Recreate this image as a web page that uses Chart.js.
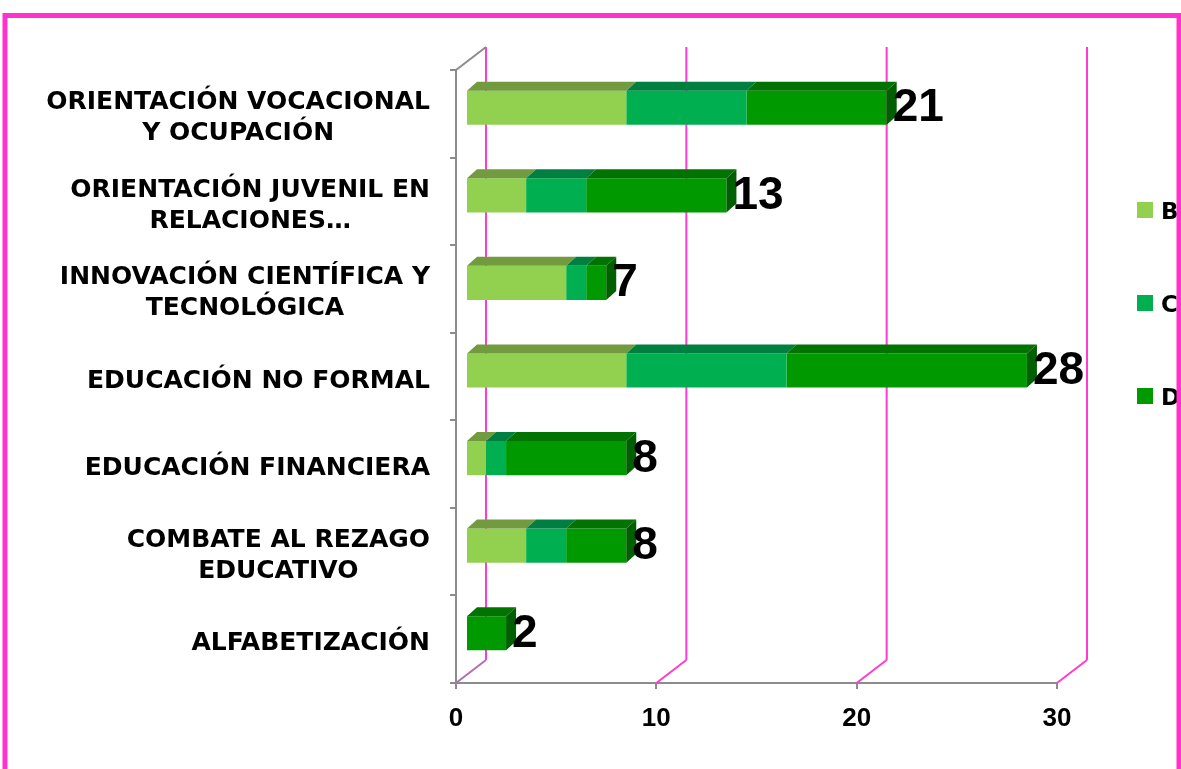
<!DOCTYPE html>
<html>
<head>
<meta charset="utf-8">
<script src="https://cdn.jsdelivr.net/npm/chart.js@4"></script>
<style>
  html, body { margin: 0; padding: 0; background: #ffffff; }
  canvas { display: block; }
</style>
</head>
<body>
<canvas id="c" width="1181" height="769"></canvas>
<script>
// ---- data ----
const categories = [
  ["ORIENTACIÓN VOCACIONAL", "Y OCUPACIÓN"],
  ["ORIENTACIÓN JUVENIL EN", "RELACIONES…"],
  ["INNOVACIÓN CIENTÍFICA Y", "TECNOLÓGICA"],
  ["EDUCACIÓN NO FORMAL"],
  ["EDUCACIÓN FINANCIERA"],
  ["COMBATE AL REZAGO", "EDUCATIVO"],
  ["ALFABETIZACIÓN"]
];
const seriesNames = ["B", "C", "D"];
const seriesB = [8, 3, 5, 8, 1, 3, 0];
const seriesC = [6, 3, 1, 8, 1, 2, 0];
const seriesD = [7, 7, 1, 12, 6, 3, 2];
const totalLabels = [21, 13, 7, 28, 8, 8, 2];
const xTicks = [0, 10, 20, 30];

// ---- style ----
const frontColors = ["#92D050", "#00B050", "#009900"];
const topColors   = ["#719B3E", "#008040", "#007300"];
const sideColors  = ["#5E8234", "#006633", "#005F00"];
const PINK = "#FF3CCF";
const GREY = "#8C8C8C";
const FRONT_SHIFT = { dx: 10, dy: -6 };
const BAR_DEPTH = { dx: 10, dy: 9 };
const WALL = { dx: 30, dy: 23 };

const labelsFlat = categories.map(c => c.join(" "));

const threeD = {
  id: "threeD",
  beforeDatasetsDraw(chart) {
    const ctx = chart.ctx;
    const xs = chart.scales.x, ca = chart.chartArea;
    ctx.save();
    ctx.lineWidth = 2;
    // back-wall grid lines + floor diagonals
    xTicks.forEach((v, i) => {
      const px = xs.getPixelForValue(v);
      ctx.strokeStyle = i === 0 ? "#B070B0" : PINK;
      ctx.beginPath();
      ctx.moveTo(px, ca.bottom);
      ctx.lineTo(px + WALL.dx, ca.bottom - WALL.dy);
      ctx.stroke();
      ctx.strokeStyle = PINK;
      ctx.beginPath();
      ctx.moveTo(px + WALL.dx, ca.bottom - WALL.dy);
      ctx.lineTo(px + WALL.dx, ca.top - WALL.dy);
      ctx.stroke();
    });
    // left wall top edge
    ctx.strokeStyle = GREY;
    ctx.beginPath();
    ctx.moveTo(ca.left, ca.top);
    ctx.lineTo(ca.left + WALL.dx, ca.top - WALL.dy);
    ctx.stroke();
    ctx.restore();
    // shift bars to middle depth
    ctx.save();
    ctx.translate(FRONT_SHIFT.dx, FRONT_SHIFT.dy);
  },
  afterDatasetsDraw(chart) {
    const ctx = chart.ctx;
    const n = chart.data.labels.length;
    const metas = chart.data.datasets.map((d, i) => chart.getDatasetMeta(i));
    for (let r = 0; r < n; r++) {
      let last = null;
      metas.forEach((m, d) => {
        const el = m.data[r];
        const x0 = Math.min(el.base, el.x), x1 = Math.max(el.base, el.x);
        if (x1 - x0 < 0.5) return;
        const top = el.y - el.height / 2;
        ctx.fillStyle = topColors[d];
        ctx.beginPath();
        ctx.moveTo(x0, top);
        ctx.lineTo(x0 + BAR_DEPTH.dx, top - BAR_DEPTH.dy);
        ctx.lineTo(x1 + BAR_DEPTH.dx, top - BAR_DEPTH.dy);
        ctx.lineTo(x1, top);
        ctx.closePath();
        ctx.fill();
        last = { el, d, x1, top, bottom: el.y + el.height / 2 };
      });
      if (last) {
        ctx.fillStyle = sideColors[last.d];
        ctx.beginPath();
        ctx.moveTo(last.x1, last.top);
        ctx.lineTo(last.x1 + BAR_DEPTH.dx, last.top - BAR_DEPTH.dy);
        ctx.lineTo(last.x1 + BAR_DEPTH.dx, last.bottom - BAR_DEPTH.dy);
        ctx.lineTo(last.x1, last.bottom);
        ctx.closePath();
        ctx.fill();
      }
    }
    ctx.restore();

    // total labels
    const xs = chart.scales.x, ys = chart.scales.y;
    ctx.save();
    ctx.fillStyle = "#000";
    ctx.font = "bold 46px 'Liberation Sans'";
    ctx.textAlign = "left";
    ctx.textBaseline = "alphabetic";
    totalLabels.forEach((t, r) => {
      const endX = xs.getPixelForValue(t) + FRONT_SHIFT.dx;
      const cy = ys.getPixelForValue(r) + FRONT_SHIFT.dy;
      ctx.fillText(String(t), endX + 6, cy + 13.5);
    });
    ctx.restore();
  },
  afterDraw(chart) {
    const ctx = chart.ctx;
    const ys = chart.scales.y;
    // category labels
    ctx.save();
    ctx.fillStyle = "#000";
    ctx.font = "bold 25px 'DejaVu Sans'";
    ctx.textAlign = "center";
    ctx.textBaseline = "alphabetic";
    const rightEdge = 430;
    categories.forEach((lines, r) => {
      const maxW = Math.max(...lines.map(l => ctx.measureText(l).width));
      const cx = rightEdge - maxW / 2;
      const cy = ys.getPixelForValue(r) + 2;
      lines.forEach((l, j) => {
        const ly = cy + (j - (lines.length - 1) / 2) * 31;
        ctx.fillText(l, cx, ly + 9);
      });
    });
    ctx.restore();

    // legend
    ctx.save();
    ctx.font = "bold 23px 'DejaVu Sans'";
    ctx.textAlign = "left";
    ctx.textBaseline = "alphabetic";
    const legendY = [210, 303, 396];
    seriesNames.forEach((name, i) => {
      ctx.fillStyle = frontColors[i];
      ctx.fillRect(1137, legendY[i] - 8, 16, 16);
      ctx.fillStyle = "#000";
      ctx.fillText(name, 1161, legendY[i] + 8.5);
    });
    ctx.restore();

    // outer pink frame
    ctx.save();
    ctx.strokeStyle = "#FF33CC";
    ctx.lineWidth = 5;
    ctx.strokeRect(5, 15.5, 1174, 800);
    ctx.restore();
  }
};

new Chart(document.getElementById("c"), {
  type: "bar",
  data: {
    labels: labelsFlat,
    datasets: [
      { label: seriesNames[0], data: seriesB, backgroundColor: frontColors[0] },
      { label: seriesNames[1], data: seriesC, backgroundColor: frontColors[1] },
      { label: seriesNames[2], data: seriesD, backgroundColor: frontColors[2] }
    ]
  },
  options: {
    indexAxis: "y",
    responsive: false,
    animation: false,
    devicePixelRatio: 1,
    layout: { padding: { left: 0, top: 70, right: 124, bottom: 0 } },
    datasets: { bar: { barPercentage: 0.39, categoryPercentage: 1, borderWidth: 0, clip: false } },
    plugins: { legend: { display: false }, tooltip: { enabled: false } },
    scales: {
      x: {
        stacked: true,
        min: 0, max: 30,
        afterBuildTicks: s => { s.ticks = xTicks.map(v => ({ value: v })); },
        afterFit: s => { s.height = 86; },
        grid: { display: true, drawOnChartArea: false, drawTicks: true, tickLength: 6, color: GREY, lineWidth: 2 },
        border: { display: true, color: GREY, width: 2 },
        ticks: { color: "#000", padding: 14, font: { family: "'Liberation Sans'", weight: "bold", size: 26 } }
      },
      y: {
        stacked: true,
        afterFit: s => { s.width = 456; },
        grid: { display: true, drawOnChartArea: false, drawTicks: true, tickLength: 6, color: GREY, lineWidth: 2, offset: true },
        border: { display: true, color: GREY, width: 2 },
        ticks: { display: false }
      }
    }
  },
  plugins: [threeD]
});
</script>
</body>
</html>
